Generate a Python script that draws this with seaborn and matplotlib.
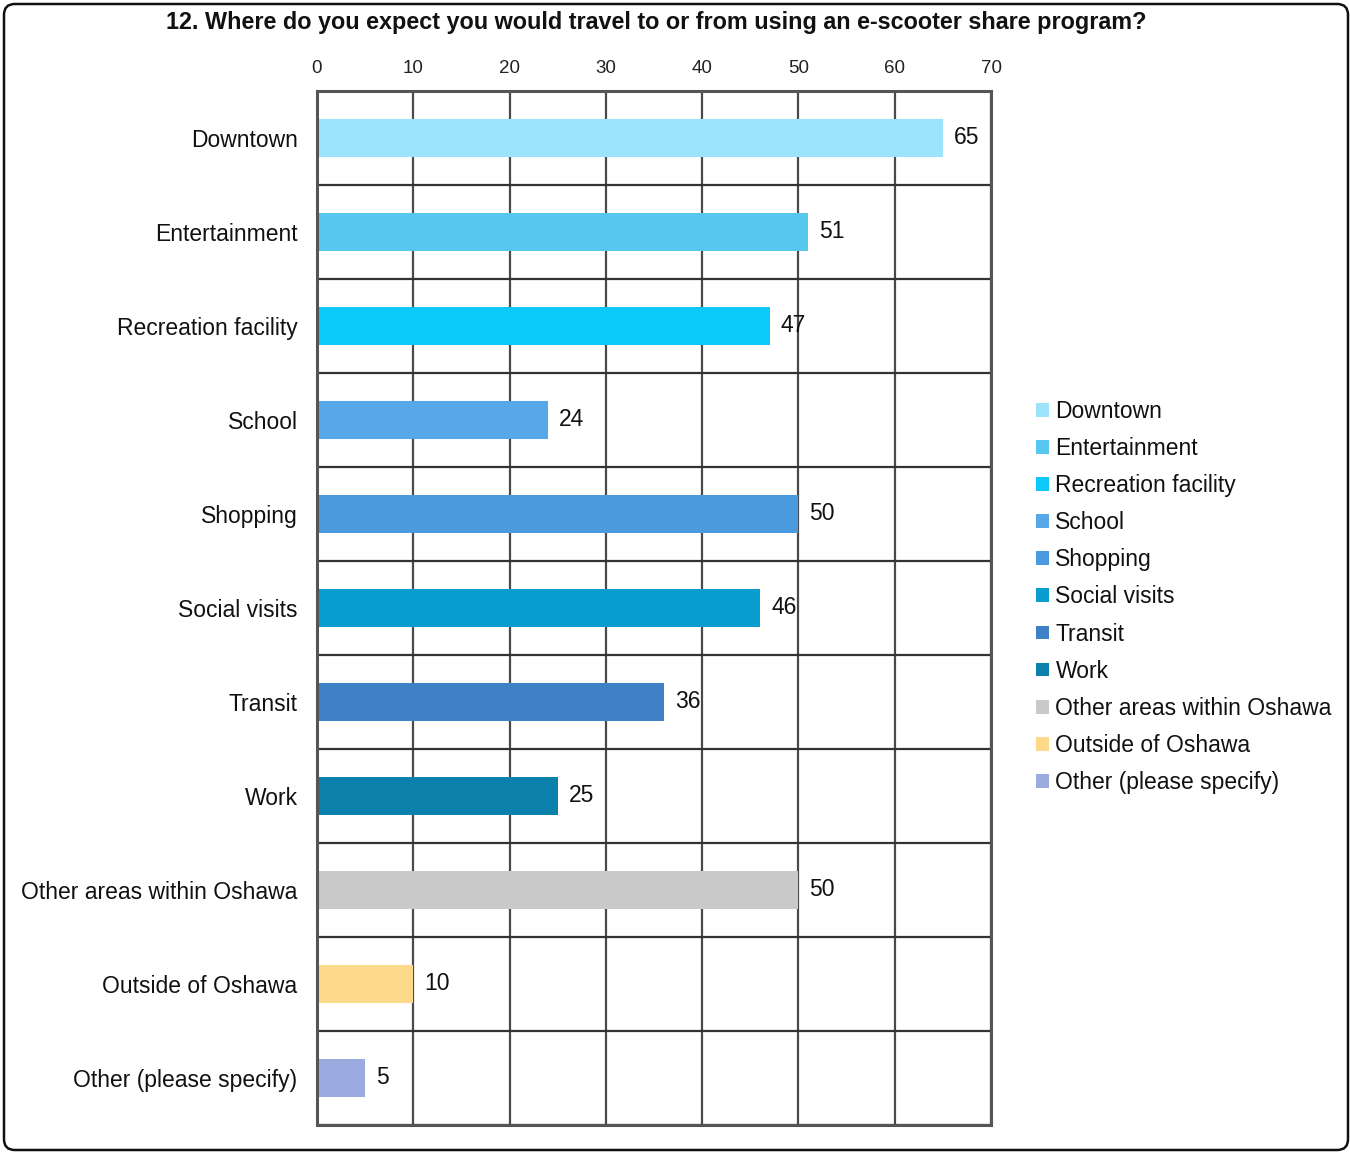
import matplotlib
matplotlib.use("Agg")
import matplotlib.pyplot as plt
import seaborn as sns
import pandas as pd
import numpy as np
from matplotlib.patches import FancyBboxPatch

categories = ["Downtown", "Entertainment", "Recreation facility", "School", "Shopping",
              "Social visits", "Transit", "Work", "Other areas within Oshawa",
              "Outside of Oshawa", "Other (please specify)"]
values = [65, 51, 47, 24, 50, 46, 36, 25, 50, 10, 5]
colors = ["#9BE4FC", "#56C7EE", "#0BCAFA", "#56A9E6", "#4A9ADE", "#0A9DD0",
          "#3E81C6", "#0A80AA", "#C9C9C9", "#FCD98B", "#9BABE0"]
x_ticks = [0, 10, 20, 30, 40, 50, 60, 70]
title = "12. Where do you expect you would travel to or from using an e-scooter share program?"

sns.set_theme(style="white")
plt.rcParams["font.family"] = ["Liberation Sans", "DejaVu Sans"]

df = pd.DataFrame({"cat": categories, "val": values})

fig = plt.figure(figsize=(13.5, 11.52), dpi=100)
ax = fig.add_axes([317/1350, 1-1125/1152, (991-317)/1350, (1125-91)/1152])

sns.barplot(data=df, y="cat", x="val", hue="cat", palette=colors, order=categories,
            hue_order=categories, dodge=False, width=0.4, orient="h", ax=ax, legend=True,
            saturation=1, linewidth=0)

for c in ax.containers:
    ax.bar_label(c, padding=8, fontsize=16.5, color="#111")

ax.set_xlim(0, 70)
ax.set_ylim(len(categories) - 0.5, -0.5)
ax.set_xticks(x_ticks)
ax.xaxis.tick_top()
ax.tick_params(axis="x", length=0, pad=10, labelsize=13.5, colors="#222")
ax.tick_params(axis="y", length=0, pad=14, labelsize=16.5, colors="#111")
ax.set_xlabel("")
ax.set_ylabel("")

ax.set_yticks(np.arange(-0.5, len(categories)), minor=True)
ax.tick_params(axis="y", which="minor", length=0)
ax.grid(axis="x", which="major", color="#4a4a4a", linewidth=1.6)
ax.grid(axis="y", which="minor", color="#333333", linewidth=1.6)
ax.grid(axis="y", which="major", visible=False)
ax.set_axisbelow(True)
for s in ax.spines.values():
    s.set_visible(True)
    s.set_color("#555555")
    s.set_linewidth(2.2)

handles, labels = ax.get_legend_handles_labels()
ax.legend(handles, labels, loc="upper left",
          bbox_to_anchor=(1036/1350, 1-400/1152), bbox_transform=fig.transFigure,
          frameon=False, fontsize=16.5, handlelength=0.55, handleheight=0.55,
          handletextpad=0.3, labelspacing=0.615, borderpad=0, borderaxespad=0,
          labelcolor="#111")

fig.text(656/1350, 1-23/1152, title, ha="center", va="center", fontsize=16.8,
         fontweight="bold", color="#111")

border = FancyBboxPatch((4/1350, 2/1152), 1344/1350, 1146/1152,
                        boxstyle="round,pad=0,rounding_size=0.008",
                        transform=fig.transFigure, fill=False, edgecolor="#111",
                        linewidth=1.8, mutation_aspect=1350/1152)
fig.patches.append(border)

fig.savefig("out.png", dpi=100, facecolor="white")
